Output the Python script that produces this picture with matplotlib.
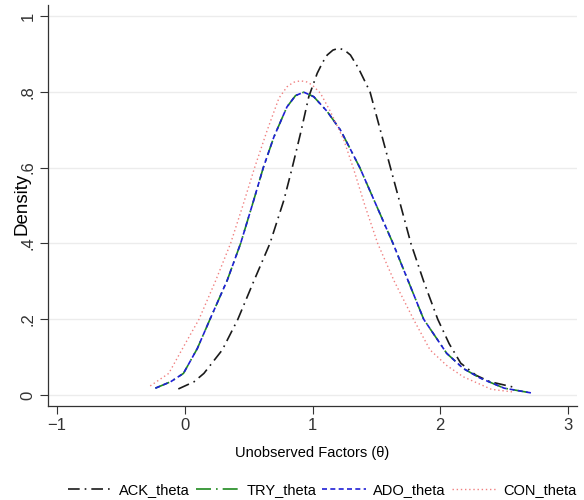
import matplotlib
matplotlib.use("Agg")
import matplotlib.pyplot as plt

plt.rcParams.update({"font.family": ["Liberation Sans", "DejaVu Sans"], "font.size": 10.5})

# density curves (x = theta, y = density)
ack_x = [-0.05, 0.073, 0.15, 0.294, 0.416, 0.54, 0.667, 0.776, 0.84, 0.906, 0.971, 1.037,
         1.08, 1.115, 1.16, 1.205, 1.25, 1.297, 1.36, 1.45, 1.53, 1.61, 1.69, 1.77,
         1.87, 1.98, 2.07, 2.16, 2.28, 2.39, 2.57]
ack_y = [0.016, 0.035, 0.057, 0.119, 0.20, 0.30, 0.40, 0.514, 0.598, 0.69, 0.787, 0.849,
         0.878, 0.897, 0.910, 0.915, 0.910, 0.897, 0.862, 0.80, 0.70, 0.60, 0.50, 0.40,
         0.30, 0.20, 0.135, 0.084, 0.052, 0.035, 0.021]

try_x = [-0.23, -0.11, -0.01, 0.099, 0.198, 0.333, 0.4375, 0.54, 0.615, 0.698, 0.80, 0.867,
         0.932, 1.01, 1.115, 1.219, 1.32, 1.37, 1.50, 1.63, 1.75, 1.87, 2.05, 2.18,
         2.31, 2.50, 2.72]
try_y = [0.018, 0.035, 0.057, 0.123, 0.20, 0.303, 0.40, 0.514, 0.60, 0.681, 0.76, 0.79,
         0.799, 0.787, 0.748, 0.699, 0.633, 0.60, 0.50, 0.40, 0.30, 0.20, 0.11, 0.07,
         0.045, 0.018, 0.005]

ado_x = list(try_x)
ado_y = list(try_y)

con_x = [-0.27, -0.125, -0.01, 0.112, 0.24, 0.359, 0.455, 0.547, 0.646, 0.737, 0.80, 0.85,
         0.906, 0.955, 0.998, 1.0625, 1.14, 1.245, 1.32, 1.41, 1.51, 1.64, 1.79, 1.92,
         2.05, 2.18, 2.40, 2.57]
con_y = [0.024, 0.057, 0.127, 0.20, 0.30, 0.40, 0.50, 0.60, 0.699, 0.783, 0.813, 0.825,
         0.829, 0.826, 0.818, 0.796, 0.748, 0.673, 0.598, 0.50, 0.40, 0.30, 0.20, 0.119,
         0.078, 0.048, 0.015, 0.008]

yticks = [0, 0.2, 0.4, 0.6, 0.8, 1.0]
ytick_labels = ["0", ".2", ".4", ".6", ".8", "1"]
xticks = [-1, 0, 1, 2, 3]

fig = plt.figure(figsize=(5.84, 5.0), dpi=100)
ax = fig.add_axes([48 / 584, 1 - 406 / 500, (577 - 48) / 584, (406 - 5) / 500])

ax.plot(ack_x, ack_y, color="#1a1a1a", lw=1.2, dashes=(7, 3, 1, 3), label="ACK_theta")
ax.plot(try_x, try_y, color="#1f8a1f", lw=1.2, dashes=(9, 3, 1, 3), label="TRY_theta")
ax.plot(ado_x, ado_y, color="#1f1fd6", lw=1.2, dashes=(3, 2), label="ADO_theta")
ax.plot(con_x, con_y, color="#f08080", lw=1.0, dashes=(1, 2), label="CON_theta")

ax.set_xlim(-1.07, 3.07)
ax.set_ylim(-0.029, 1.029)
ax.set_xticks(xticks)
ax.set_yticks(yticks)
ax.set_yticklabels(ytick_labels, rotation=90, va="center")
ax.tick_params(direction="out", length=6, width=0.8, colors="#333333", labelsize=12, pad=3)
ax.grid(axis="y", color="#ececec", lw=1.0)
ax.set_axisbelow(True)
for s in ["top", "right"]:
    ax.spines[s].set_visible(False)
for s in ["left", "bottom"]:
    ax.spines[s].set_color("#333333")
    ax.spines[s].set_linewidth(0.9)

ax.set_xlabel("Unobserved Factors (θ)", fontsize=10.5, labelpad=9)
ax.set_ylabel("Density", fontsize=13.5)
ax.yaxis.set_label_coords(-0.034, 0.504)

ax.legend(loc="upper center", bbox_to_anchor=(0.518, -0.16), ncol=4, frameon=False,
          fontsize=10.5, handlelength=3.0, columnspacing=0.4, handletextpad=0.5)

fig.savefig("out.png", dpi=100, facecolor="white")
